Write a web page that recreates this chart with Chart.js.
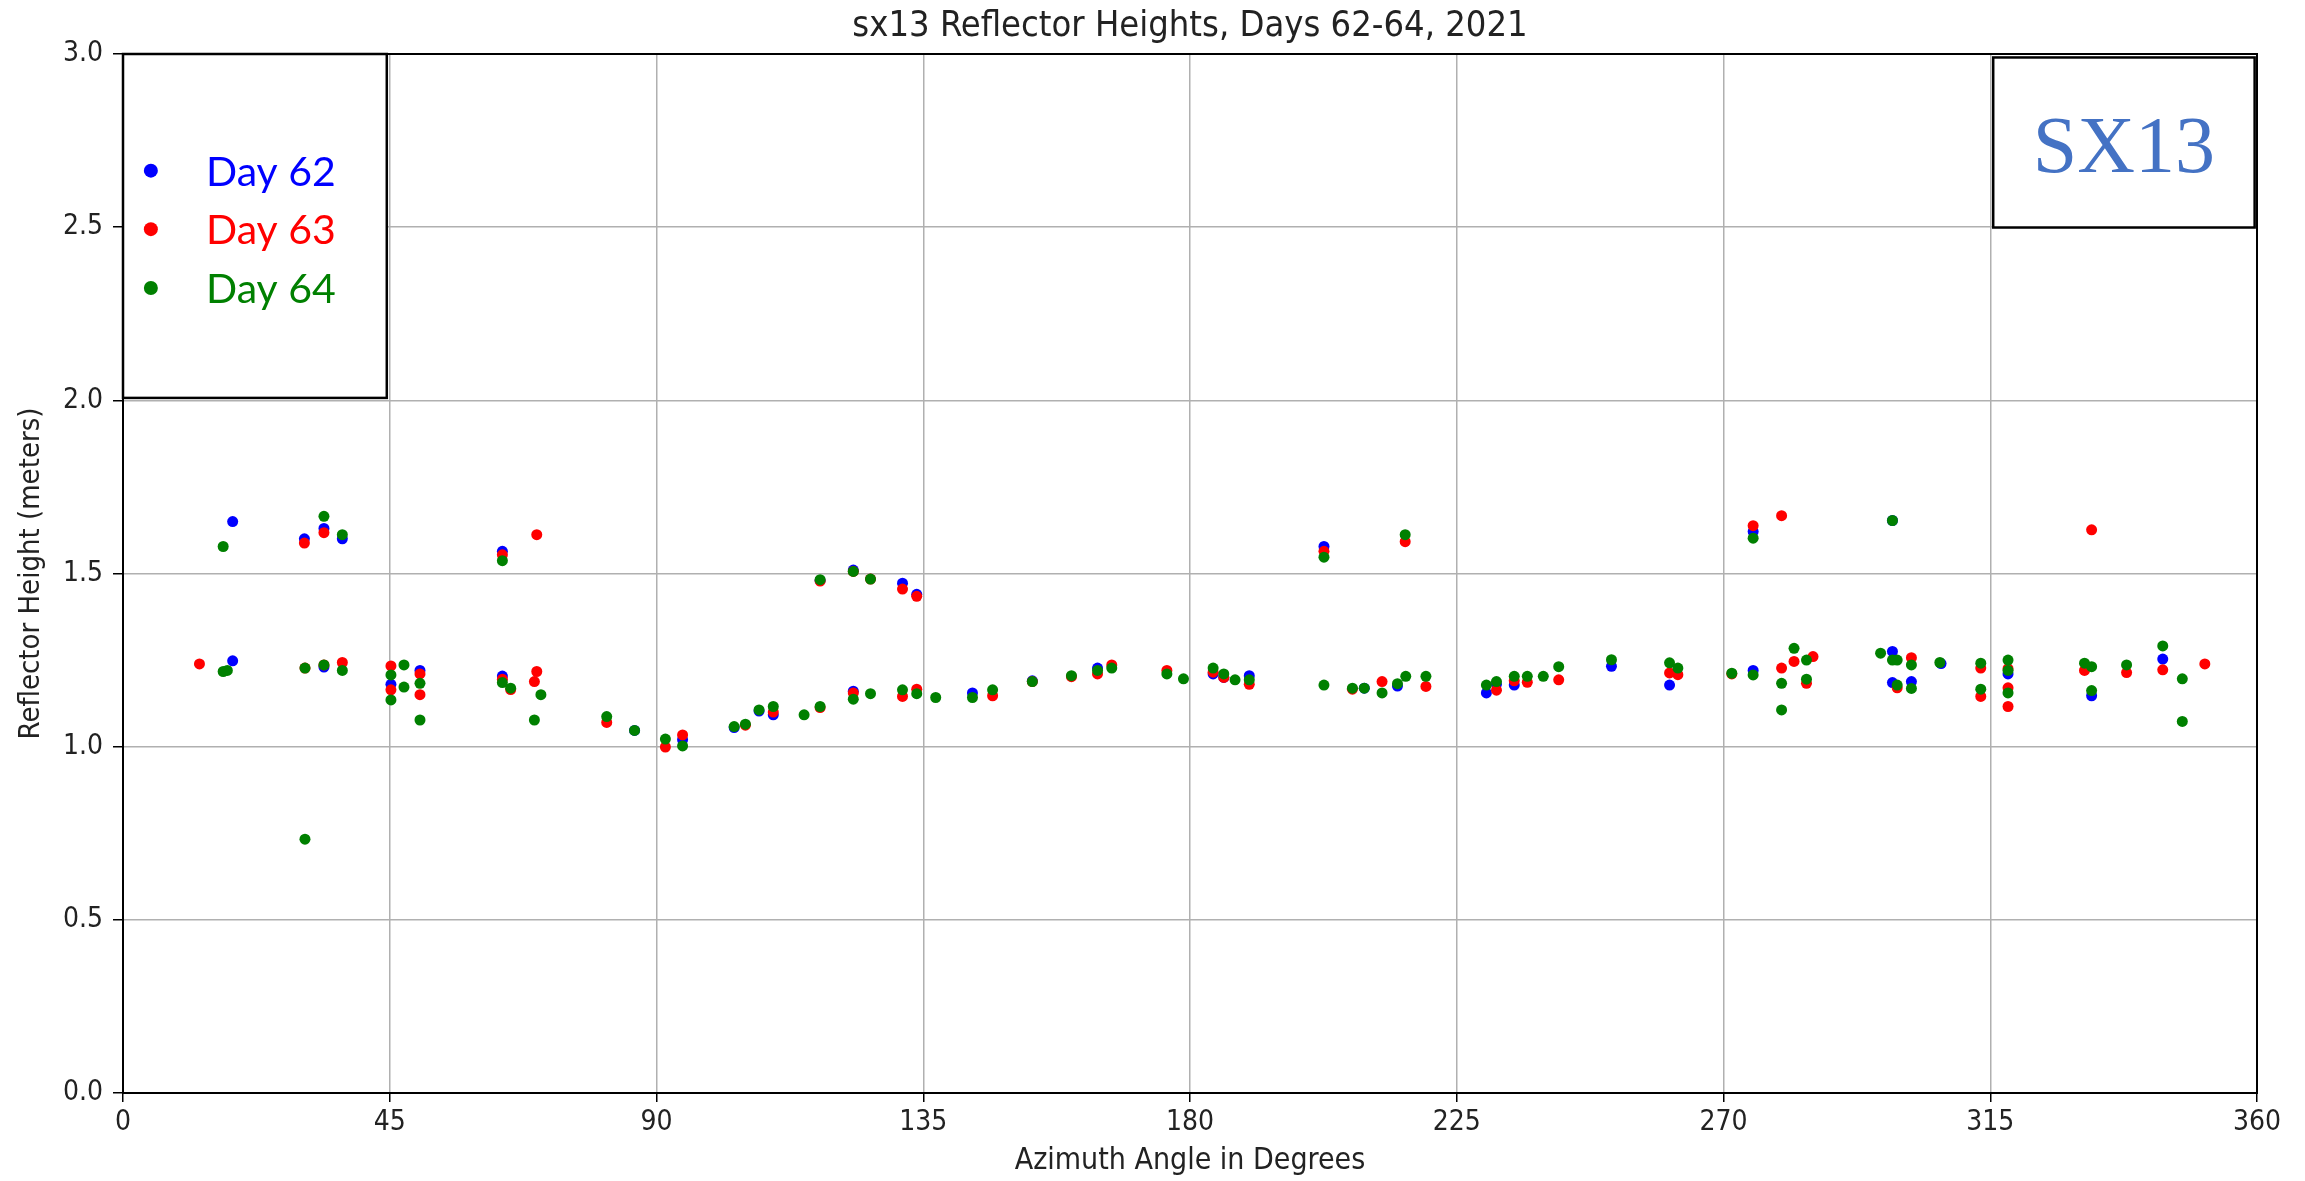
<!DOCTYPE html>
<html>
<head>
<meta charset="utf-8">
<title>sx13 Reflector Heights</title>
<script src="https://cdn.jsdelivr.net/npm/chart.js@4.4.1/dist/chart.umd.min.js"></script>
<style>
  html, body { margin: 0; padding: 0; background: #fff; }
  canvas { display: block; }
</style>
</head>
<body>
<canvas id="chart" width="2305" height="1181"></canvas>
<script>
// azimuth (deg), reflector height (m)
const day62 = [
  [18.5, 1.65], [30.6, 1.60], [33.9, 1.63], [37.0, 1.60], [18.5, 1.248], [45.2, 1.18],
  [50.1, 1.22], [64.0, 1.564], [64.0, 1.204], [86.3, 1.047], [94.4, 1.02], [103.1, 1.055],
  [107.3, 1.103], [109.7, 1.092], [123.2, 1.16], [131.5, 1.472], [133.9, 1.44], [143.3, 1.155],
  [153.4, 1.19], [164.4, 1.227], [183.9, 1.21], [185.7, 1.20], [190.0, 1.205], [202.6, 1.578],
  [209.4, 1.169], [215.0, 1.175], [230.0, 1.155], [231.7, 1.18], [234.7, 1.178], [251.1, 1.232],
  [260.9, 1.178], [275.0, 1.22], [275.0, 1.621], [298.5, 1.653], [298.5, 1.275], [298.5, 1.185],
  [301.7, 1.188], [306.7, 1.24], [318.0, 1.21], [332.1, 1.147], [344.1, 1.253], [123.2, 1.51],
  [117.6, 1.48], [33.9, 1.23]
];
const day63 = [
  [12.9, 1.239], [30.6, 1.588], [33.9, 1.618], [33.9, 1.236], [37.0, 1.243], [45.2, 1.233],
  [45.2, 1.164], [50.1, 1.21], [50.1, 1.15], [64.0, 1.554], [64.0, 1.195], [65.4, 1.165],
  [69.8, 1.612], [69.8, 1.217], [69.4, 1.188], [81.6, 1.07], [91.5, 0.999], [94.4, 1.034],
  [105.0, 1.062], [109.7, 1.10], [117.6, 1.113], [117.6, 1.478], [123.2, 1.506], [123.2, 1.155],
  [126.1, 1.484], [131.5, 1.455], [131.5, 1.145], [133.9, 1.434], [133.9, 1.166], [146.7, 1.147],
  [153.4, 1.188], [160.0, 1.202], [164.4, 1.21], [166.8, 1.236], [176.1, 1.22], [183.9, 1.215],
  [185.7, 1.20], [190.0, 1.18], [202.6, 1.564], [207.4, 1.166], [212.4, 1.188], [216.3, 1.592],
  [219.8, 1.174], [231.7, 1.163], [234.7, 1.19], [236.9, 1.186], [242.2, 1.193], [260.9, 1.213],
  [262.3, 1.208], [271.4, 1.21], [275.0, 1.638], [279.8, 1.667], [279.8, 1.227], [281.9, 1.246],
  [285.1, 1.26], [284.0, 1.183], [299.3, 1.17], [301.7, 1.257], [313.4, 1.227], [313.4, 1.145],
  [318.0, 1.225], [318.0, 1.17], [318.0, 1.116], [330.9, 1.22], [332.1, 1.626], [338.0, 1.214],
  [344.1, 1.222], [351.2, 1.239], [30.7, 1.227]
];
const day64 = [
  [16.9, 1.578], [33.9, 1.665], [37.0, 1.612], [16.9, 1.217], [17.6, 1.22], [30.7, 1.227],
  [33.9, 1.236], [37.0, 1.22], [30.7, 0.733], [45.2, 1.207], [45.2, 1.135], [47.4, 1.236],
  [47.4, 1.172], [50.1, 1.183], [50.1, 1.077], [64.0, 1.537], [64.0, 1.185], [65.4, 1.169],
  [70.5, 1.15], [69.4, 1.077], [81.6, 1.087], [86.3, 1.047], [91.5, 1.022], [94.4, 1.002],
  [103.1, 1.058], [105.0, 1.065], [107.3, 1.106], [109.7, 1.116], [114.9, 1.092], [117.6, 1.116],
  [117.6, 1.482], [123.2, 1.506], [123.2, 1.137], [126.1, 1.484], [126.1, 1.153], [131.5, 1.164],
  [133.9, 1.153], [137.1, 1.142], [143.3, 1.142], [146.7, 1.164], [153.4, 1.188], [160.0, 1.205],
  [164.4, 1.22], [166.8, 1.227], [176.1, 1.21], [178.9, 1.196], [183.9, 1.227], [185.7, 1.21],
  [187.6, 1.193], [190.0, 1.193], [202.6, 1.547], [202.6, 1.178], [207.4, 1.169], [209.4, 1.169],
  [212.4, 1.155], [215.0, 1.182], [216.3, 1.612], [216.4, 1.203], [219.8, 1.203], [230.0, 1.178],
  [231.7, 1.188], [234.7, 1.203], [236.9, 1.203], [239.6, 1.203], [242.2, 1.231], [251.1, 1.251],
  [260.9, 1.242], [262.3, 1.227], [271.4, 1.212], [275.0, 1.207], [275.0, 1.602], [279.8, 1.183],
  [279.8, 1.106], [281.9, 1.284], [284.0, 1.25], [284.0, 1.195], [296.5, 1.27], [298.5, 1.653],
  [298.5, 1.25], [299.3, 1.25], [299.3, 1.178], [301.7, 1.236], [301.7, 1.168], [306.5, 1.243],
  [313.4, 1.241], [313.4, 1.166], [318.0, 1.25], [318.0, 1.22], [318.0, 1.155], [330.9, 1.241],
  [332.1, 1.231], [332.1, 1.162], [338.0, 1.236], [344.1, 1.291], [347.4, 1.196], [347.4, 1.073]
];
const dayLabels = ['Day 62', 'Day 63', 'Day 64'];
const dayColors = ['#0000ff', '#ff0000', '#008000'];
const xTicks = [0, 45, 90, 135, 180, 225, 270, 315, 360];
const yTicks = [0, 0.5, 1.0, 1.5, 2.0, 2.5, 3.0];
const chartTitle = 'sx13 Reflector Heights, Days 62-64, 2021';

const toPts = arr => arr.map(p => ({ x: p[0], y: p[1] }));
const FONT = '"DejaVu Sans Condensed", "DejaVu Sans", sans-serif';

// title over the axes, legend box (top left) and station label box (top right)
const boxesPlugin = {
  id: 'boxes',
  afterDatasetsDraw(chart) {
    const { ctx, chartArea, scales: { x, y } } = chart;
    ctx.save();
    // legend box
    const lx0 = chartArea.left, lx1 = x.getPixelForValue(44.5);
    const ly0 = chartArea.top, ly1 = y.getPixelForValue(2.007);
    ctx.fillStyle = '#fff';
    ctx.fillRect(lx0, ly0, lx1 - lx0, ly1 - ly0);
    ctx.strokeStyle = '#000';
    ctx.lineWidth = 2.5;
    ctx.strokeRect(lx0, ly0, lx1 - lx0, ly1 - ly0);
    const rows = [2.669, 2.50, 2.33];
    ctx.font = '41px Lato, "Noto Sans", sans-serif';
    ctx.textBaseline = 'middle';
    ctx.textAlign = 'left';
    chart.data.datasets.forEach((ds, i) => {
      const yy = y.getPixelForValue(rows[i]);
      ctx.fillStyle = ds.backgroundColor;
      ctx.beginPath();
      ctx.arc(x.getPixelForValue(4.7), yy + 2, 7, 0, Math.PI * 2);
      ctx.fill();
      ctx.fillText(ds.label, x.getPixelForValue(14.0), yy + 4);
    });

    // SX13 box
    const sx0 = x.getPixelForValue(315.5), sx1 = x.getPixelForValue(359.6);
    const sy0 = y.getPixelForValue(2.99), sy1 = y.getPixelForValue(2.499);
    ctx.fillStyle = '#fff';
    ctx.fillRect(sx0, sy0, sx1 - sx0, sy1 - sy0);
    ctx.strokeRect(sx0, sy0, sx1 - sx0, sy1 - sy0);
    ctx.fillStyle = '#4472c4';
    ctx.font = '80px "Liberation Serif", "DejaVu Serif", serif';
    ctx.textAlign = 'center';
    ctx.fillText('SX13', (sx0 + sx1) / 2, (sy0 + sy1) / 2 + 8);
    ctx.restore();
  },
  afterDraw(chart) {
    const { ctx, chartArea: a } = chart;
    ctx.save();
    // matplotlib style frame on all four sides
    ctx.strokeStyle = '#000';
    ctx.lineWidth = 2;
    ctx.strokeRect(a.left, a.top, a.right - a.left, a.bottom - a.top);
    // title centred over the axes, not the canvas
    ctx.fillStyle = '#222';
    ctx.font = '36px ' + FONT;
    ctx.textAlign = 'center';
    ctx.textBaseline = 'middle';
    ctx.fillText(chartTitle, (a.left + a.right) / 2, a.top - 27);
    ctx.restore();
  }
};

new Chart(document.getElementById('chart').getContext('2d'), {
  type: 'scatter',
  data: {
    datasets: [day62, day63, day64].map((d, i) => ({
      label: dayLabels[i],
      data: toPts(d),
      backgroundColor: dayColors[i],
      borderWidth: 0,
      pointRadius: 5.5,
      pointHoverRadius: 5.5,
      order: 3 - i
    }))
  },
  options: {
    responsive: false,
    animation: false,
    devicePixelRatio: 1,
    layout: { padding: { left: 0, right: 48, top: 54, bottom: 0 } },
    plugins: {
      legend: { display: false },
      tooltip: { enabled: false },
      title: { display: false }
    },
    scales: {
      x: {
        type: 'linear',
        min: 0, max: 360,
        afterFit: s => { s.height = 88; },
        afterBuildTicks: s => { s.ticks = xTicks.map(v => ({ value: v })); },
        ticks: { color: '#222', font: { family: FONT, size: 28 }, padding: 4 },
        grid: { color: '#b0b0b0', lineWidth: 1.5, tickColor: '#000', tickLength: 9 },
        border: { color: '#000', width: 2 },
        title: {
          display: true, text: 'Azimuth Angle in Degrees', color: '#222',
          font: { family: FONT, size: 30 }, padding: { top: 0, bottom: 2 }
        }
      },
      y: {
        type: 'linear',
        min: 0, max: 3,
        afterFit: s => { s.width = 123; },
        afterBuildTicks: s => { s.ticks = yTicks.map(v => ({ value: v })); },
        ticks: { color: '#222', font: { family: FONT, size: 28 }, padding: 10, callback: v => v.toFixed(1) },
        grid: { color: '#b0b0b0', lineWidth: 1.5, tickColor: '#000', tickLength: 10 },
        border: { color: '#000', width: 2 },
        title: {
          display: true, text: 'Reflector Height (meters)', color: '#222',
          font: { family: FONT, size: 29 }, padding: { top: 14, bottom: 0 }
        }
      }
    }
  },
  plugins: [boxesPlugin]
});
</script>
</body>
</html>
